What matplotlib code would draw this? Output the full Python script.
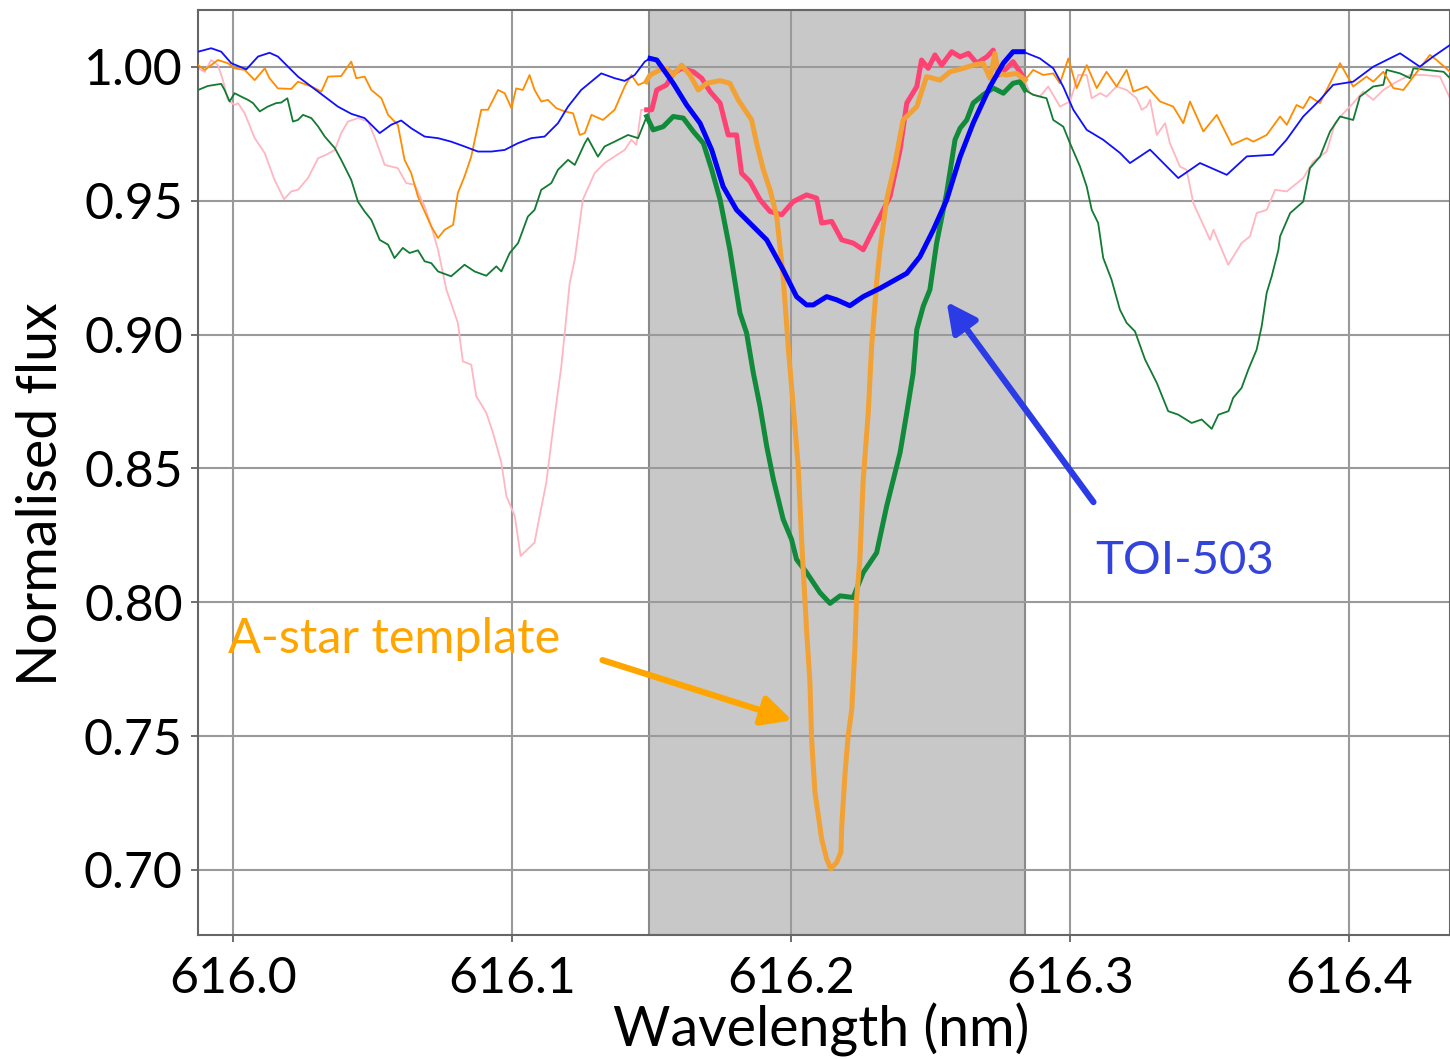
import numpy as np
import matplotlib
matplotlib.use("Agg")
import matplotlib.pyplot as plt

plt.rcParams["font.family"] = ["Lato", "DejaVu Sans"]

# Spectra (wavelength in nm, normalised flux)
wl_toi = [615.9875, 615.9922, 615.9958, 615.9994, 616.0048, 616.0090, 616.0131, 616.0161, 616.0233,
          616.0305, 616.0376, 616.0424, 616.0472, 616.0526, 616.0567, 616.0603, 616.0639, 616.0687,
          616.0735, 616.0782, 616.0830, 616.0878, 616.0926, 616.0974, 616.1021, 616.1069, 616.1117,
          616.1165, 616.1201, 616.1248, 616.1320, 616.1368, 616.1404, 616.1440, 616.1476,
          616.1495, 616.1519, 616.1578, 616.1626, 616.1674, 616.1716, 616.1757, 616.1805, 616.1913,
          616.1972, 616.2020, 616.2056, 616.2080, 616.2128, 616.2164, 616.2211, 616.2259, 616.2319,
          616.2415, 616.2462, 616.2510, 616.2558, 616.2606, 616.2653, 616.2713, 616.2761, 616.2796,
          616.2832,
          616.2892, 616.2940, 616.2976, 616.3012, 616.3060, 616.3119, 616.3179, 616.3215, 616.3287,
          616.3347, 616.3388, 616.3466, 616.3562, 616.3634, 616.3728, 616.3776, 616.3836, 616.3896,
          616.3943, 616.4015, 616.4087, 616.4183, 616.4254, 616.4302, 616.4362]
fx_toi = [1.0057, 1.0070, 1.0057, 1.0014, 0.9991, 1.0039, 1.0053, 1.0039, 0.9964,
          0.9908, 0.9852, 0.9825, 0.9809, 0.9753, 0.9784, 0.9800, 0.9771, 0.9740,
          0.9734, 0.9721, 0.9703, 0.9684, 0.9684, 0.9690, 0.9715, 0.9734, 0.9740,
          0.9790, 0.9852, 0.9914, 0.9976, 0.9958, 0.9948, 0.9970, 1.0020,
          1.0032, 1.0026, 0.9939, 0.9858, 0.9790, 0.9690, 0.9553, 0.9466, 0.9354,
          0.9242, 0.9142, 0.9111, 0.9111, 0.9142, 0.9130, 0.9108, 0.9142, 0.9173,
          0.9229, 0.9291, 0.9391, 0.9503, 0.9664, 0.9790, 0.9926, 1.0014, 1.0057,
          1.0057,
          1.0032, 0.9995, 0.9926, 0.9840, 0.9765, 0.9728, 0.9679, 0.9641, 0.9691,
          0.9628, 0.9585, 0.9641, 0.9597, 0.9666, 0.9672, 0.9728, 0.9815, 0.9877,
          0.9933, 0.9945, 1.0001, 1.0051, 1.0001, 1.0039, 1.0082]

wl_astar = [615.9875, 615.9899, 615.9946, 615.9982, 616.0006, 616.0042, 616.0078, 616.0114, 616.0131,
            616.0161, 616.0209, 616.0233, 616.0281, 616.0317, 616.0341, 616.0388, 616.0424, 616.0442,
            616.0472, 616.0496, 616.0532, 616.0556, 616.0591, 616.0615, 616.0639, 616.0663, 616.0711,
            616.0735, 616.0759, 616.0789, 616.0806, 616.0830, 616.0854, 616.0890, 616.0914, 616.0950,
            616.0974, 616.0998, 616.1015, 616.1039, 616.1063, 616.1081, 616.1105, 616.1129, 616.1159,
            616.1189, 616.1219, 616.1243, 616.1261, 616.1285, 616.1326, 616.1368, 616.1404, 616.1428,
            616.1452, 616.1481,
            616.1495, 616.1530, 616.1554, 616.1578, 616.1608, 616.1638, 616.1668, 616.1698, 616.1746,
            616.1781, 616.1811, 616.1859, 616.1877, 616.1901, 616.1925, 616.1949, 616.1972, 616.1990,
            616.2008, 616.2026, 616.2038, 616.2056, 616.2068, 616.2074, 616.2086, 616.2110, 616.2128,
            616.2143, 616.2164, 616.2179, 616.2182, 616.2194, 616.2205, 616.2218, 616.2229, 616.2235,
            616.2247, 616.2259, 616.2277, 616.2289, 616.2308, 616.2319, 616.2343, 616.2373, 616.2402,
            616.2451, 616.2486, 616.2534, 616.2570, 616.2618, 616.2653, 616.2689, 616.2713, 616.2731,
            616.2743, 616.2773, 616.2809, 616.2839,
            616.2868, 616.2904, 616.2940, 616.2964, 616.2994, 616.3024, 616.3060, 616.3096, 616.3131,
            616.3167, 616.3203, 616.3227, 616.3275, 616.3323, 616.3370, 616.3406, 616.3430, 616.3478,
            616.3526, 616.3580, 616.3634, 616.3657, 616.3705, 616.3753, 616.3777, 616.3812, 616.3836,
            616.3860, 616.3896, 616.3932, 616.3968, 616.4015, 616.4063, 616.4087, 616.4123, 616.4159,
            616.4195, 616.4231, 616.4290, 616.4314, 616.4362]
fx_astar = [1.0007, 0.9989, 1.0026, 1.0014, 0.9995, 0.9989, 0.9951, 0.9995, 0.9958,
            0.9920, 0.9918, 0.9945, 0.9927, 0.9908, 0.9964, 0.9966, 1.0020, 0.9958,
            0.9964, 0.9914, 0.9883, 0.9821, 0.9784, 0.9653, 0.9603, 0.9516, 0.9404,
            0.9361, 0.9392, 0.9410, 0.9529, 0.9591, 0.9665, 0.9840, 0.9840, 0.9914,
            0.9902, 0.9846, 0.9920, 0.9914, 0.9970, 0.9914, 0.9871, 0.9877, 0.9846,
            0.9834, 0.9827, 0.9746, 0.9753, 0.9821, 0.9802, 0.9840, 0.9927, 0.9970,
            0.9933, 0.9945,
            0.9970, 0.9989, 0.9995, 0.9970, 1.0007, 0.9970, 0.9914, 0.9939, 0.9949,
            0.9939, 0.9877, 0.9802, 0.9715, 0.9616, 0.9541, 0.9441, 0.9218, 0.8956,
            0.8732, 0.8508, 0.8235, 0.7896, 0.7700, 0.7489, 0.7290, 0.7116, 0.7041,
            0.7004, 0.7029, 0.7066, 0.7165, 0.7364, 0.7501, 0.7601, 0.7825, 0.8011,
            0.8160, 0.8459, 0.8708, 0.8956, 0.9205, 0.9317, 0.9504, 0.9641, 0.9802,
            0.9852, 0.9964, 0.9951, 0.9982, 0.9995, 1.0007, 1.0014, 0.9958, 1.0051,
            0.9976, 0.9970, 0.9976, 0.9951,
            0.9989, 0.9970, 0.9976, 0.9939, 1.0032, 0.9921, 1.0007, 0.9921, 0.9982,
            0.9927, 0.9989, 0.9908, 0.9927, 0.9871, 0.9852, 0.9790, 0.9871, 0.9759,
            0.9821, 0.9709, 0.9734, 0.9721, 0.9746, 0.9815, 0.9784, 0.9858, 0.9846,
            0.9889, 0.9865, 0.9939, 1.0014, 0.9927, 0.9964, 0.9945, 0.9982, 0.9921,
            0.9914, 0.9964, 1.0045, 1.0026, 0.9982]

wl_green = [615.9875, 615.9910, 615.9958, 615.9970, 615.9988, 616.0006, 616.0030, 616.0054, 616.0072,
            616.0096, 616.0125, 616.0155, 616.0173, 616.0195, 616.0215, 616.0233, 616.0251, 616.0281,
            616.0305, 616.0329, 616.0365, 616.0388, 616.0424, 616.0448, 616.0472, 616.0496, 616.0526,
            616.0556, 616.0579, 616.0609, 616.0633, 616.0663, 616.0687, 616.0711, 616.0735, 616.0782,
            616.0830, 616.0866, 616.0908, 616.0944, 616.0962, 616.0992, 616.1022, 616.1057, 616.1081,
            616.1105, 616.1141, 616.1165, 616.1201, 616.1225, 616.1261, 616.1272, 616.1308, 616.1332,
            616.1368, 616.1416, 616.1452,
            616.1483, 616.1506, 616.1542, 616.1578, 616.1614, 616.1650, 616.1686, 616.1716, 616.1746,
            616.1781, 616.1817, 616.1841, 616.1865, 616.1889, 616.1913, 616.1937, 616.1972, 616.2002,
            616.2020, 616.2056, 616.2104, 616.2140, 616.2176, 616.2223, 616.2259, 616.2307, 616.2343,
            616.2391, 616.2415, 616.2438, 616.2451, 616.2474, 616.2498, 616.2522, 616.2558, 616.2588,
            616.2606, 616.2630, 616.2653, 616.2689, 616.2725, 616.2761, 616.2796, 616.2821, 616.2839,
            616.2868, 616.2916, 616.2940, 616.2976, 616.3000, 616.3036, 616.3060, 616.3078, 616.3101,
            616.3119, 616.3149, 616.3179, 616.3203, 616.3233, 616.3269, 616.3311, 616.3352, 616.3388,
            616.3436, 616.3472, 616.3508, 616.3532, 616.3568, 616.3585, 616.3615, 616.3639, 616.3669,
            616.3687, 616.3705, 616.3723, 616.3747, 616.3753, 616.3789, 616.3836, 616.3860, 616.3896,
            616.3932, 616.3968, 616.4015, 616.4039, 616.4087, 616.4123, 616.4135, 616.4183, 616.4219,
            616.4231, 616.4279, 616.4339, 616.4362]
fx_green = [0.9914, 0.9929, 0.9937, 0.9914, 0.9871, 0.9902, 0.9889, 0.9877, 0.9865,
            0.9834, 0.9852, 0.9865, 0.9867, 0.9883, 0.9796, 0.9802, 0.9821, 0.9809,
            0.9778, 0.9740, 0.9697, 0.9653, 0.9578, 0.9497, 0.9460, 0.9429, 0.9354,
            0.9336, 0.9286, 0.9324, 0.9305, 0.9315, 0.9274, 0.9267, 0.9236, 0.9218,
            0.9261, 0.9236, 0.9220, 0.9255, 0.9236, 0.9305, 0.9342, 0.9441, 0.9466,
            0.9541, 0.9566, 0.9616, 0.9653, 0.9634, 0.9715, 0.9734, 0.9665, 0.9703,
            0.9721, 0.9746, 0.9734,
            0.9815, 0.9765, 0.9777, 0.9815, 0.9809, 0.9759, 0.9715, 0.9616, 0.9504,
            0.9317, 0.9081, 0.9006, 0.8857, 0.8732, 0.8583, 0.8459, 0.8310, 0.8235,
            0.8160, 0.8111, 0.8036, 0.7996, 0.8024, 0.8018, 0.8111, 0.8185, 0.8359,
            0.8559, 0.8708, 0.8857, 0.9019, 0.9106, 0.9168, 0.9342, 0.9529, 0.9728,
            0.9771, 0.9802, 0.9865, 0.9896, 0.9921, 0.9902, 0.9939, 0.9945, 0.9914,
            0.9896, 0.9883, 0.9802, 0.9777, 0.9715, 0.9628, 0.9553, 0.9466, 0.9417,
            0.9287, 0.9205, 0.9093, 0.9044, 0.9012, 0.8907, 0.8820, 0.8714, 0.8701,
            0.8670, 0.8683, 0.8648, 0.8701, 0.8714, 0.8764, 0.8801, 0.8869, 0.8944,
            0.9031, 0.9156, 0.9218, 0.9317, 0.9367, 0.9454, 0.9497, 0.9622, 0.9665,
            0.9759, 0.9815, 0.9802, 0.9889, 0.9927, 0.9933, 0.9989, 0.9976, 0.9958,
            0.9995, 0.9989, 0.9982, 0.9958]

wl_pink = [615.9875, 615.9899, 615.9922, 615.9946, 615.9964, 615.9982, 616.0006, 616.0018, 616.0042,
           616.0078, 616.0114, 616.0149, 616.0183, 616.0209, 616.0233, 616.0269, 616.0305, 616.0334,
           616.0365, 616.0388, 616.0412, 616.0448, 616.0484, 616.0502, 616.0520, 616.0544, 616.0591,
           616.0621, 616.0651, 616.0687, 616.0711, 616.0735, 616.0765, 616.0806, 616.0824, 616.0854,
           616.0872, 616.0908, 616.0932, 616.0962, 616.0980, 616.1010, 616.1031, 616.1081, 616.1099,
           616.1123, 616.1153, 616.1177, 616.1195, 616.1207, 616.1225, 616.1254, 616.1296, 616.1332,
           616.1368, 616.1404, 616.1428, 616.1446, 616.1463,
           616.1483, 616.1501, 616.1519, 616.1554, 616.1578, 616.1608, 616.1650, 616.1680, 616.1710,
           616.1746, 616.1775, 616.1805, 616.1823, 616.1853, 616.1889, 616.1925, 616.1967, 616.2008,
           616.2056, 616.2092, 616.2110, 616.2146, 616.2182, 616.2223, 616.2259, 616.2283, 616.2319,
           616.2355, 616.2391, 616.2415, 616.2451, 616.2468, 616.2492, 616.2516, 616.2540, 616.2576,
           616.2606, 616.2636, 616.2666, 616.2702, 616.2725, 616.2743, 616.2773, 616.2796, 616.2832,
           616.2857, 616.2892, 616.2922, 616.2964, 616.3000, 616.3030, 616.3060, 616.3078, 616.3108,
           616.3131, 616.3167, 616.3203, 616.3239, 616.3257, 616.3275, 616.3287, 616.3311, 616.3341,
           616.3358, 616.3394, 616.3418, 616.3442, 616.3502, 616.3514, 616.3567, 616.3615, 616.3645,
           616.3669, 616.3705, 616.3735, 616.3777, 616.3836, 616.3872, 616.3920, 616.3950, 616.3980,
           616.4015, 616.4051, 616.4087, 616.4123, 616.4171, 616.4219, 616.4267, 616.4326, 616.4362]
fx_pink = [0.9995, 0.9982, 1.0026, 1.0007, 0.9951, 0.9877, 0.9858, 0.9865, 0.9827,
           0.9734, 0.9678, 0.9578, 0.9506, 0.9535, 0.9541, 0.9585, 0.9659, 0.9672,
           0.9690, 0.9753, 0.9796, 0.9809, 0.9796, 0.9753, 0.9703, 0.9634, 0.9622,
           0.9566, 0.9560, 0.9479, 0.9404, 0.9317, 0.9168, 0.9044, 0.8900, 0.8888,
           0.8770, 0.8708, 0.8633, 0.8521, 0.8397, 0.8322, 0.8173, 0.8223, 0.8322,
           0.8447, 0.8695, 0.8882, 0.9068, 0.9193, 0.9280, 0.9504, 0.9603, 0.9641,
           0.9666, 0.9690, 0.9728, 0.9709, 0.9840,
           0.9840, 0.9840, 0.9914, 0.9933, 0.9976, 0.9995, 0.9982, 0.9958, 0.9908,
           0.9865, 0.9746, 0.9746, 0.9603, 0.9572, 0.9504, 0.9460, 0.9448, 0.9497,
           0.9522, 0.9510, 0.9417, 0.9423, 0.9354, 0.9342, 0.9317, 0.9367, 0.9441,
           0.9516, 0.9690, 0.9865, 0.9927, 1.0026, 0.9995, 1.0045, 1.0007, 1.0057,
           1.0038, 1.0051, 1.0014, 1.0038, 1.0063, 0.9970, 0.9995, 1.0020, 0.9964,
           0.9902, 0.9889, 0.9927, 0.9852, 0.9871, 0.9970, 0.9970, 0.9883, 0.9902,
           0.9889, 0.9927, 0.9914, 0.9883, 0.9840, 0.9852, 0.9877, 0.9746, 0.9790,
           0.9715, 0.9628, 0.9616, 0.9491, 0.9354, 0.9392, 0.9261, 0.9342, 0.9367,
           0.9454, 0.9466, 0.9541, 0.9535, 0.9585, 0.9647, 0.9684, 0.9790, 0.9827,
           0.9865, 0.9908, 0.9877, 0.9914, 0.9945, 0.9970, 0.9970, 0.9964, 0.9883]

# highlighted window
span_lo, span_hi = 616.1490, 616.2840

fig = plt.figure(figsize=(14.5, 10.59), dpi=100)
ax = fig.add_axes([0.1366, 0.1171, 0.8634, 0.8735])

ax.axvspan(span_lo, span_hi, facecolor="#c8c8c8", edgecolor="#8a8a8a", lw=1.5, zorder=0.2)

series = [
    (wl_pink, fx_pink, "#ffb6c1", "#ff4274"),
    (wl_green, fx_green, "#137a33", "#118a3c"),
    (wl_astar, fx_astar, "#ff8c00", "#f2a135"),
    (wl_toi, fx_toi, "#1010ff", "#0000ff"),
]
for i, (wl, fx, thin_c, thick_c) in enumerate(series):
    wl = np.array(wl)
    fx = np.array(fx)
    ax.plot(wl, fx, color=thin_c, lw=1.3, zorder=2 + i)
    m = (wl >= span_lo - 0.001) & (wl <= span_hi + 0.001)
    ax.plot(wl[m], fx[m], color=thick_c, lw=3.6, zorder=6 + i)

ax.set_xlim(615.9875, 616.4362)
ax.set_ylim(0.6757, 1.0213)
ax.set_xticks([616.0, 616.1, 616.2, 616.3, 616.4])
ax.set_xticklabels(["616.0", "616.1", "616.2", "616.3", "616.4"])
ax.set_yticks([0.70, 0.75, 0.80, 0.85, 0.90, 0.95, 1.00])
ax.set_yticklabels(["0.70", "0.75", "0.80", "0.85", "0.90", "0.95", "1.00"])
ax.tick_params(labelsize=36, length=5, width=1.2, color="#555555")
ax.tick_params(axis="x", pad=10)
ax.tick_params(axis="y", pad=6)
ax.set_axisbelow(True)
ax.grid(True, color="#9a9a9a", lw=1.5)
for s in ax.spines.values():
    s.set_color("#666666")
    s.set_linewidth(1.5)

ax.set_xlabel("Wavelength (nm)", fontsize=40)
ax.xaxis.set_label_coords(0.4978, -0.073)
ax.xaxis.label.set_va("top")
ax.set_ylabel("Normalised flux", fontsize=40)
ax.yaxis.set_label_coords(-0.105, 0.476)

ax.text(615.9982, 0.7862, "A-star template", color="#ffa500", fontsize=35, va="center", ha="left")
ax.annotate("", xy=(616.2014, 0.7556), xytext=(616.1315, 0.7787),
            arrowprops=dict(arrowstyle="-|>", color="#ffa500", lw=4.5, mutation_scale=45))
ax.text(616.3090, 0.8153, "TOI-503", color="#3344dd", fontsize=34, va="center", ha="left")
ax.annotate("", xy=(616.2552, 0.9131), xytext=(616.3090, 0.8366),
            arrowprops=dict(arrowstyle="-|>", color="#2b3be6", lw=4.5, mutation_scale=45))

fig.savefig("out.png", dpi=100)
